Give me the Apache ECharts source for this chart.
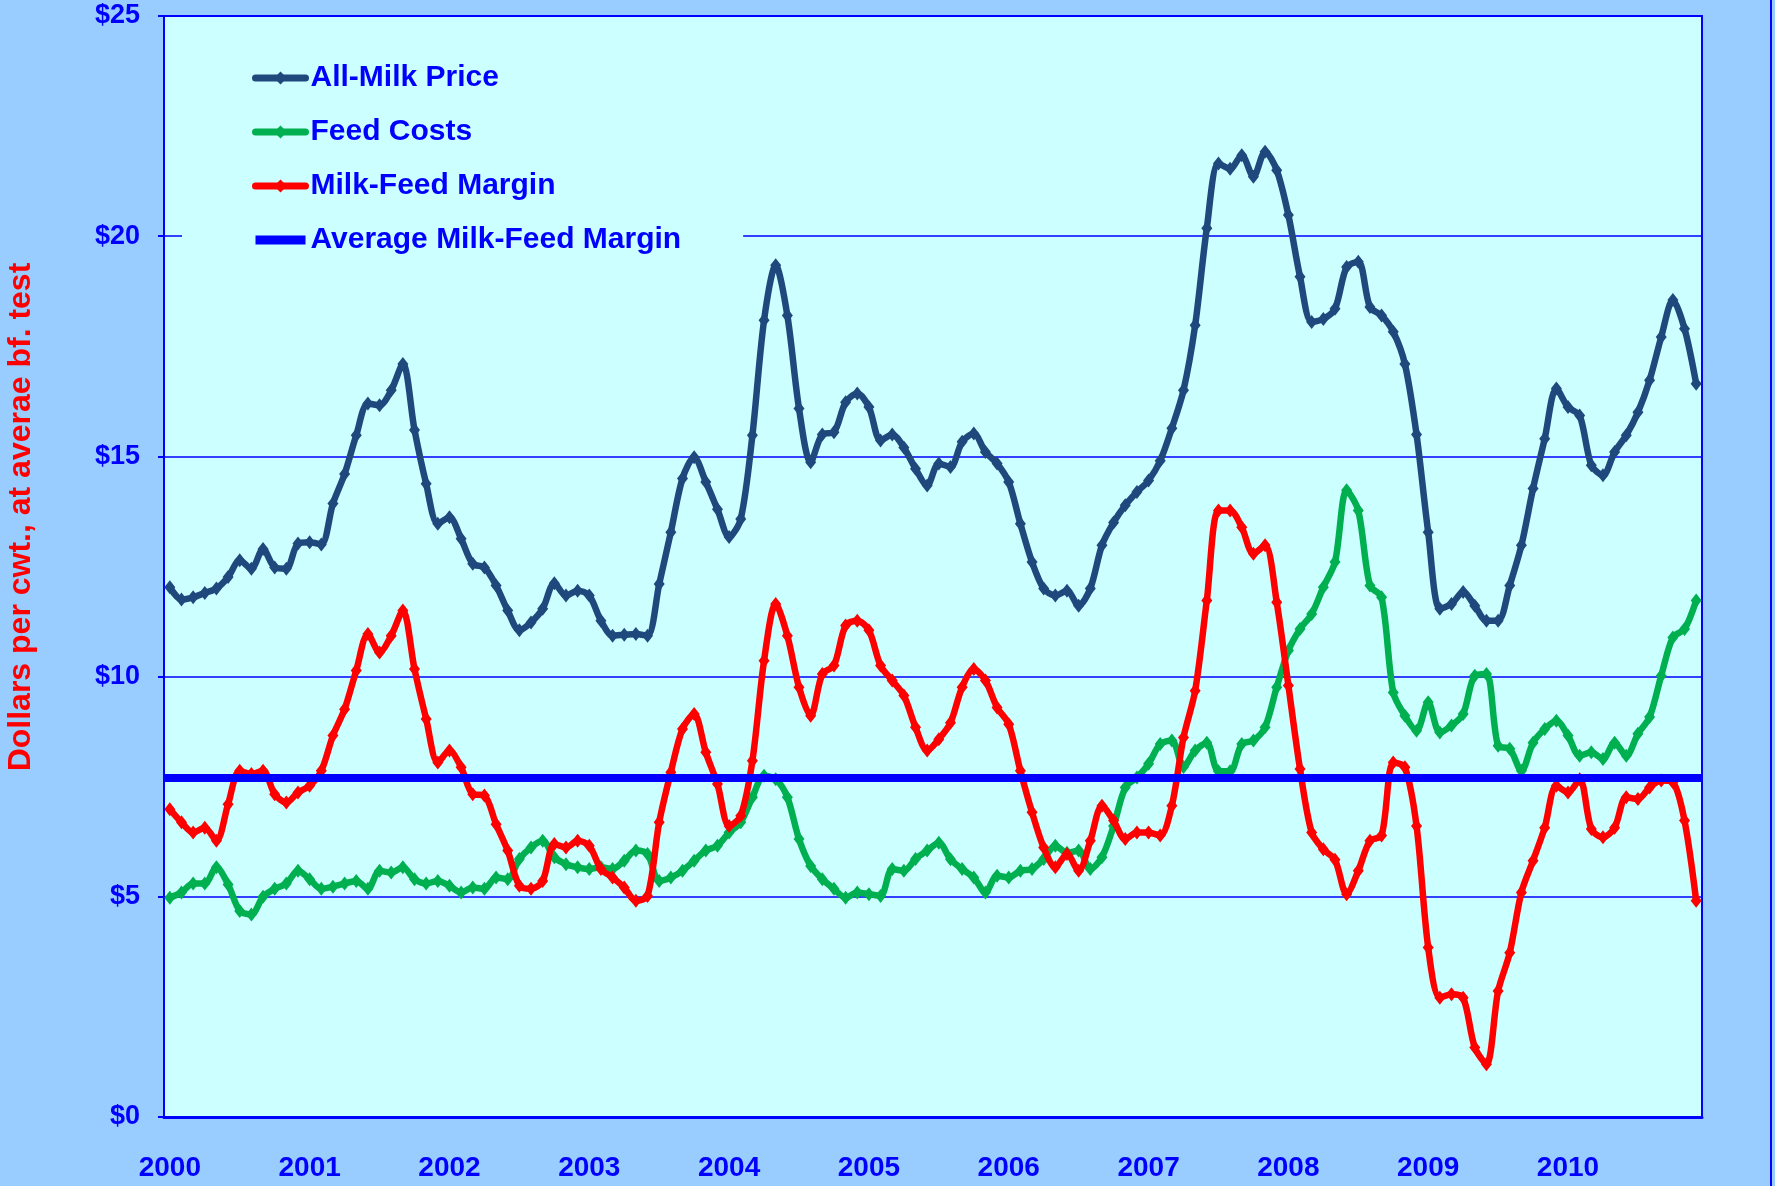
<!DOCTYPE html>
<html>
<head>
<meta charset="utf-8">
<title>All-Milk Price, Feed Costs and Milk-Feed Margin</title>
<script src="https://cdn.jsdelivr.net/npm/echarts@6/dist/echarts.min.js"></script>
<style>
    html, body { margin: 0; padding: 0; background: #99ccff; }
    #main { width: 1775px; height: 1186px; }
</style>
</head>
<body>
<div id="main"></div>
<script>
// monthly values, Jan 2000 .. Dec 2010 ($ per cwt)
var years = [2000, 2001, 2002, 2003, 2004, 2005, 2006, 2007, 2008, 2009, 2010];

var allMilk = [
    12.03, 11.75, 11.80, 11.90, 12.00, 12.26, 12.64, 12.45, 12.90, 12.48, 12.45, 13.02,
    13.05, 13.00, 13.93, 14.60, 15.48, 16.20, 16.16, 16.50, 17.10, 15.60, 14.38, 13.47,
    13.62, 13.13, 12.56, 12.48, 12.07, 11.50, 11.05, 11.23, 11.54, 12.12, 11.84, 11.95,
    11.84, 11.27, 10.93, 10.95, 10.97, 10.93, 12.10, 13.28, 14.50, 14.98, 14.42, 13.80,
    13.17, 13.58, 15.48, 18.09, 19.34, 18.20, 16.09, 14.87, 15.50, 15.55, 16.23, 16.43,
    16.12, 15.36, 15.50, 15.20, 14.72, 14.34, 14.84, 14.76, 15.33, 15.52, 15.10, 14.84,
    14.42, 13.47, 12.60, 12.00, 11.84, 11.95, 11.61, 12.00, 12.98, 13.50, 13.89, 14.19,
    14.45, 14.90, 15.64, 16.50, 17.98, 20.18, 21.65, 21.53, 21.84, 21.35, 21.92, 21.50,
    20.48, 19.08, 18.05, 18.12, 18.35, 19.30, 19.42, 18.39, 18.20, 17.83, 17.10, 15.50,
    13.28, 11.54, 11.65, 11.92, 11.61, 11.27, 11.27, 12.07, 12.98, 14.27, 15.40, 16.54,
    16.12, 15.93, 14.80, 14.57, 15.10, 15.48, 16.00, 16.73, 17.71, 18.55, 17.90, 16.65
];

var feedCosts = [
    4.98, 5.10, 5.30, 5.30, 5.67, 5.28, 4.68, 4.60, 5.00, 5.18, 5.30, 5.59,
    5.40, 5.18, 5.23, 5.30, 5.36, 5.18, 5.59, 5.55, 5.67, 5.40, 5.30, 5.36,
    5.25, 5.10, 5.21, 5.18, 5.44, 5.40, 5.86, 6.12, 6.27, 5.90, 5.74, 5.67,
    5.63, 5.67, 5.63, 5.82, 6.05, 5.97, 5.36, 5.44, 5.59, 5.82, 6.05, 6.16,
    6.46, 6.69, 7.26, 7.75, 7.67, 7.26, 6.31, 5.70, 5.40, 5.18, 4.98, 5.10,
    5.06, 5.02, 5.63, 5.59, 5.86, 6.05, 6.23, 5.85, 5.63, 5.44, 5.10, 5.48,
    5.44, 5.59, 5.63, 5.86, 6.16, 6.00, 6.05, 5.63, 5.90, 6.61, 7.48, 7.71,
    8.02, 8.47, 8.55, 7.95, 8.32, 8.50, 7.85, 7.85, 8.47, 8.55, 8.85, 9.76,
    10.59, 11.08, 11.42, 12.03, 12.60, 14.23, 13.77, 12.07, 11.80, 9.64, 9.11, 8.77,
    9.42, 8.73, 8.89, 9.15, 10.02, 10.06, 8.43, 8.36, 7.86, 8.50, 8.81, 9.00,
    8.66, 8.20, 8.28, 8.13, 8.50, 8.20, 8.70, 9.08, 10.02, 10.89, 11.08, 11.73
];

var milkFeedMargin = [
    6.99, 6.69, 6.46, 6.57, 6.27, 7.10, 7.86, 7.79, 7.86, 7.33, 7.14, 7.37,
    7.52, 7.86, 8.66, 9.26, 10.14, 10.97, 10.55, 10.93, 11.50, 10.17, 9.04, 8.05,
    8.32, 7.94, 7.33, 7.30, 6.65, 6.05, 5.25, 5.18, 5.36, 6.20, 6.12, 6.27,
    6.16, 5.63, 5.44, 5.21, 4.91, 5.02, 6.69, 7.83, 8.81, 9.15, 8.28, 7.56,
    6.61, 6.84, 8.09, 10.36, 11.65, 10.93, 9.76, 9.11, 10.06, 10.25, 11.16, 11.27,
    11.05, 10.25, 9.91, 9.57, 8.85, 8.32, 8.58, 8.95, 9.76, 10.17, 9.91, 9.30,
    8.92, 7.86, 6.92, 6.12, 5.67, 5.97, 5.59, 6.27, 7.07, 6.73, 6.31, 6.46,
    6.46, 6.39, 7.07, 8.62, 9.68, 11.73, 13.77, 13.77, 13.39, 12.79, 12.98, 11.69,
    9.80, 7.90, 6.46, 6.08, 5.84, 5.06, 5.59, 6.27, 6.39, 8.05, 7.94, 6.61,
    3.85, 2.71, 2.79, 2.71, 1.58, 1.20, 2.86, 3.73, 5.10, 5.82, 6.57, 7.52,
    7.37, 7.67, 6.54, 6.35, 6.57, 7.26, 7.22, 7.48, 7.64, 7.60, 6.73, 4.91
];

var avgMargin = 7.7;

var months = [];
for (var y = 0; y < years.length; y++) {
    for (var m = 1; m <= 12; m++) {
        months.push(years[y] + '-' + (m < 10 ? '0' + m : m));
    }
}

var font = "'Liberation Sans Narrow', 'Arial Narrow', 'Liberation Sans', Arial, sans-serif";
var blue = '#0000ff';

var myChart = echarts.init(document.getElementById('main'));

function lineSeries(name, values, color, z) {
    return {
        name: name, type: 'line', data: values, z: z,
        smooth: 0.3, symbol: 'diamond', symbolSize: [11, 14], showAllSymbol: true,
        lineStyle: { width: 6.5, color: color }, itemStyle: { color: color }
    };
}

var option = {
    backgroundColor: '#99ccff',
    animation: false,
    grid: {
        left: 164, right: 73, top: 16, bottom: 69,
        show: true, backgroundColor: '#ccffff', borderColor: blue, borderWidth: 2
    },
    legend: {
        data: [
            'All-Milk Price', 'Feed Costs', 'Milk-Feed Margin',
            { name: 'Average Milk-Feed Margin', icon: 'path://M0,0h50v9h-50z' }
        ],
        orient: 'vertical',
        left: 182, top: 40,
        padding: [20, 62, 20, 70],
        backgroundColor: '#ccffff',
        itemWidth: 50, itemHeight: 16, itemGap: 18,
        lineStyle: { width: 7, cap: 'round' },
        textStyle: { color: blue, fontSize: 30, fontWeight: 'bold', fontFamily: font, lineHeight: 36 }
    },
    xAxis: {
        type: 'category',
        data: months,
        boundaryGap: true,
        axisLine: { lineStyle: { color: blue, width: 3 } },
        axisTick: {
            interval: function (i) { return i % 12 === 0; },
            length: 11,
            lineStyle: { color: blue, width: 2 }
        },
        axisLabel: {
            interval: function (i) { return i % 12 === 0; },
            formatter: function (v) { return v.slice(0, 4); },
            color: blue, fontSize: 28, fontWeight: 'bold', fontFamily: font, margin: 37
        },
        splitLine: { show: false }
    },
    yAxis: {
        type: 'value',
        min: 0, max: 25, interval: 5,
        axisLine: { show: true, lineStyle: { color: blue, width: 2 } },
        axisTick: { show: true, length: 6, lineStyle: { color: blue, width: 2 } },
        splitLine: { lineStyle: { color: blue, width: 1.5 } },
        axisLabel: {
            formatter: function (v) { return '$' + v; },
            color: blue, fontSize: 27, fontWeight: 'bold', fontFamily: font, margin: 24
        }
    },
    graphic: [
        {
            type: 'line', silent: true,
            shape: { x1: 1771, y1: 0, x2: 1771, y2: 1186 },
            style: { stroke: blue, lineWidth: 2 }
        },
        {
            type: 'text', silent: true,
            x: 21, y: 517, rotation: Math.PI / 2,
            style: {
                text: 'Dollars per cwt., at averae bf. test',
                fill: '#ff0000',
                font: "bold 32px 'Liberation Sans', Arial, sans-serif",
                textAlign: 'center', textVerticalAlign: 'middle'
            }
        }
    ],
    series: [
        lineSeries('Feed Costs', feedCosts, '#00b050', 2),
        lineSeries('Milk-Feed Margin', milkFeedMargin, '#ff0000', 3),
        lineSeries('All-Milk Price', allMilk, '#1f497d', 4),
        {
            name: 'Average Milk-Feed Margin', type: 'line', data: [], z: 5,
            symbol: 'none',
            lineStyle: { width: 8, color: blue }, itemStyle: { color: blue },
            markLine: {
                silent: true, symbol: ['none', 'none'],
                label: { show: false },
                lineStyle: { color: blue, width: 8, type: 'solid' },
                data: [{ yAxis: avgMargin }]
            }
        }
    ]
};

myChart.setOption(option);
</script>
</body>
</html>
